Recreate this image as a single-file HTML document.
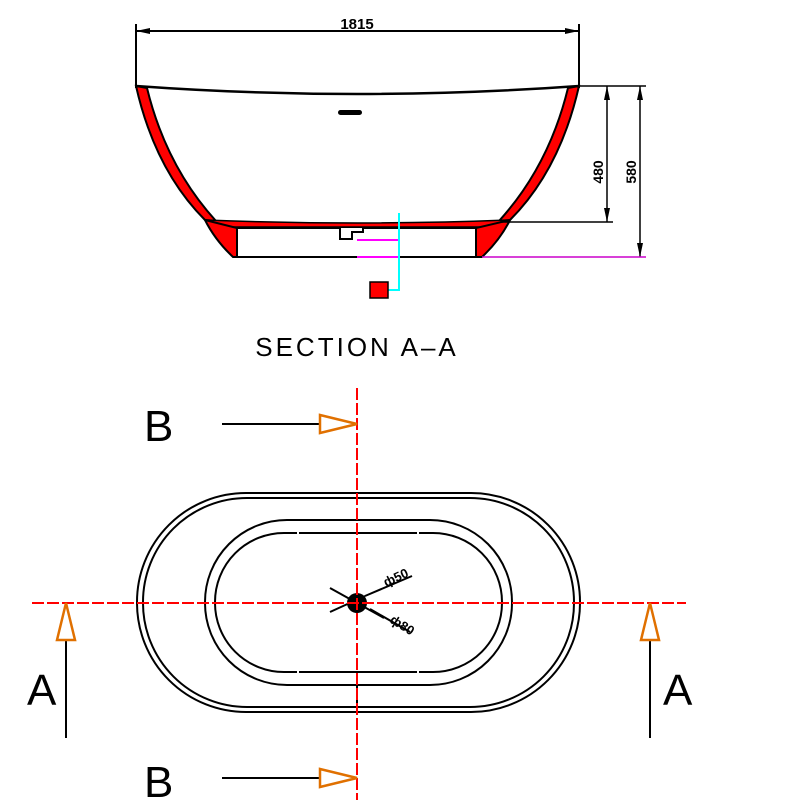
<!DOCTYPE html>
<html><head><style>body{margin:0;background:#fff}svg{display:block}</style></head><body>
<svg width="791" height="805" viewBox="0 0 791 805" xmlns="http://www.w3.org/2000/svg" font-family="Liberation Sans, sans-serif">
<g stroke="#000" stroke-width="2" fill="none">
<line x1="136" y1="24" x2="136" y2="88"/><line x1="579" y1="24" x2="579" y2="88"/>
<line x1="136" y1="31" x2="579" y2="31"/>
</g>
<polygon points="136,31 150,28 150,34" fill="#000"/><polygon points="579,31 565,28 565,34" fill="#000"/>
<text x="357" y="29" font-size="15" font-weight="bold" text-anchor="middle">1815</text>
<path d="M136,86 Q155,170 205,220 L216,221 Q166,166 147,88 Z" fill="#f00" stroke="#000" stroke-width="2"/>
<path d="M579,86 Q560,170 510,220 L499,221 Q549,166 568,88 Z" fill="#f00" stroke="#000" stroke-width="2"/>
<path d="M205,220 Q357,226 510,220 L505,227 L210,227 Z" fill="#f00" stroke="#000" stroke-width="1.5"/>
<path d="M205,220 L237,228 L237,257 L233,257 Q215,240 205,220 Z" fill="#f00" stroke="#000" stroke-width="2"/>
<path d="M510,220 L476,228 L476,257 L482,257 Q500,240 510,220 Z" fill="#f00" stroke="#000" stroke-width="2"/>
<rect x="237" y="228" width="239" height="29" fill="#fff" stroke="#000" stroke-width="2"/>
<path d="M340,228 L340,239 L352,239 L352,232 L363,232 L363,228" fill="#fff" stroke="#000" stroke-width="2"/>
<line x1="233" y1="257" x2="482" y2="257" stroke="#000" stroke-width="2"/>
<path d="M136,86 Q357,102 579,86" fill="none" stroke="#000" stroke-width="2.5"/>
<rect x="338" y="110" width="24" height="5" rx="2.5" fill="#000"/>
<g stroke="#000" stroke-width="1.5" fill="none">
<line x1="579" y1="86" x2="646" y2="86"/><line x1="500" y1="222" x2="613" y2="222"/>
<line x1="607" y1="86" x2="607" y2="222"/><line x1="640" y1="86" x2="640" y2="257"/>
</g>
<polygon points="607,86 604,100 610,100" fill="#000"/><polygon points="607,222 604,208 610,208" fill="#000"/>
<polygon points="640,86 637,100 643,100" fill="#000"/><polygon points="640,257 637,243 643,243" fill="#000"/>
<text transform="translate(603,172) rotate(-90)" font-size="14" font-weight="bold" text-anchor="middle">480</text>
<text transform="translate(636,172) rotate(-90)" font-size="14" font-weight="bold" text-anchor="middle">580</text>
<line x1="482" y1="257" x2="646" y2="257" stroke="#c0c" stroke-width="1.5"/>
<line x1="357" y1="240" x2="399" y2="240" stroke="#f0f" stroke-width="2"/>
<line x1="357" y1="257" x2="399" y2="257" stroke="#f0f" stroke-width="2"/>
<path d="M399,213 L399,290 L388,290" fill="none" stroke="#0ff" stroke-width="2"/>
<rect x="370" y="282" width="18" height="16" fill="#f00" stroke="#000" stroke-width="1.5"/>
<text x="357" y="356" font-size="26" text-anchor="middle" letter-spacing="3">SECTION A–A</text>
<g fill="none" stroke="#000" stroke-width="2">
<rect x="137" y="493" width="443" height="219" rx="109" ry="109"/>
<rect x="143" y="498" width="431" height="209" rx="104" ry="104"/>
<rect x="205" y="520" width="307" height="165" rx="82" ry="82"/>
<rect x="215" y="533" width="287" height="139" rx="69" ry="69"/>
<line x1="357" y1="672" x2="357" y2="712"/>
<line x1="330" y1="588" x2="384" y2="618"/><line x1="330" y1="612" x2="365" y2="596"/>
<line x1="365" y1="596" x2="412" y2="576"/><line x1="370" y1="609" x2="410" y2="632"/>
</g>
<g stroke="#fff" stroke-width="3"><line x1="297" y1="533" x2="299" y2="533"/><line x1="417" y1="533" x2="419" y2="533"/><line x1="297" y1="672" x2="299" y2="672"/><line x1="417" y1="672" x2="419" y2="672"/></g>
<circle cx="357" cy="603" r="10" fill="#000"/>
<text transform="translate(386,587) rotate(-25)" font-size="13" font-weight="bold">ф50</text>
<text transform="translate(389,622) rotate(32)" font-size="13" font-weight="bold">ф80</text>
<g stroke="#f00" stroke-width="2" stroke-dasharray="12,3">
<line x1="32" y1="603" x2="686" y2="603"/><line x1="357" y1="388" x2="357" y2="800"/>
</g>
<g stroke="#000" stroke-width="2"><line x1="222" y1="424" x2="320" y2="424"/><line x1="222" y1="778" x2="320" y2="778"/>
<line x1="66" y1="640" x2="66" y2="738"/><line x1="650" y1="640" x2="650" y2="738"/></g>
<g fill="#fff" stroke="#e07000" stroke-width="2.5">
<polygon points="320,415 357,424 320,433"/><polygon points="320,769 357,778 320,787"/>
<polygon points="57,640 66,603 75,640"/><polygon points="641,640 650,603 659,640"/>
</g>
<g font-size="44"><text x="144" y="441">B</text><text x="144" y="797">B</text><text x="27" y="705">A</text><text x="663" y="705">A</text></g>
</svg>
</body></html>
